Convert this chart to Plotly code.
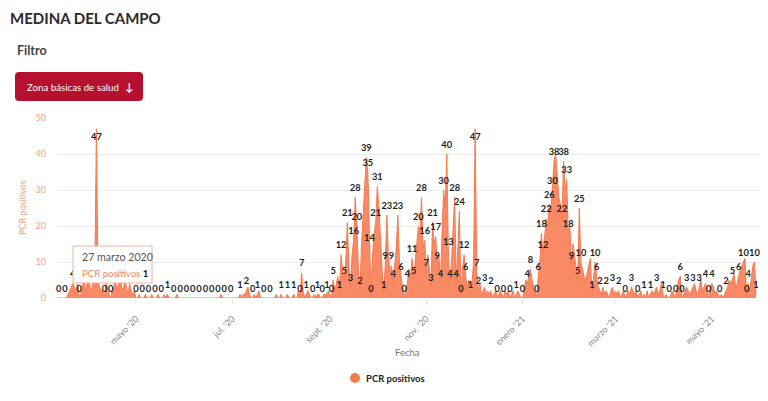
import pandas as pd
import plotly.graph_objects as go

# ---------------- data ----------------
start_date = "2020-03-12"
pcr_positivos = [
    0, 0, 0, 0, 0, 0, 0, 1, 2, 3,
    4, 3, 2, 4, 0, 1, 3, 5, 2, 4,
    6, 3, 2, 5, 8, 47, 5, 3, 2, 2,
    0, 4, 3, 1, 0, 2, 3, 5, 2, 4,
    7, 3, 2, 5, 3, 1, 4, 2, 1, 2,
    0, 0, 1, 0, 0, 0, 1, 0, 0, 0,
    1, 0, 0, 0, 1, 0, 0, 0, 1, 0,
    1, 0, 0, 0, 0, 0, 1, 0, 0, 0,
    0, 0, 0, 0, 0, 0, 0, 0, 0, 0,
    0, 0, 0, 0, 0, 0, 0, 0, 0, 0,
    0, 0, 0, 0, 1, 0, 0, 0, 0, 0,
    0, 0, 0, 0, 0, 0, 1, 0, 1, 1,
    2, 3, 1, 0, 0, 1, 0, 1, 2, 0,
    0, 0, 0, 0, 0, 0, 0, 0, 0, 1,
    0, 0, 1, 0, 0, 0, 1, 0, 0, 0,
    1, 0, 0, 2, 0, 7, 2, 0, 1, 2,
    1, 0, 0, 1, 0, 1, 1, 0, 0, 1,
    1, 1, 2, 1, 0, 5, 2, 4, 6, 1,
    12, 7, 5, 10, 21, 9, 3, 12, 16, 28,
    20, 8, 2, 15, 22, 30, 39, 35, 14, 0,
    12, 18, 21, 31, 25, 15, 8, 1, 9, 23,
    12, 7, 9, 4, 10, 14, 23, 10, 6, 3,
    0, 2, 4, 8, 6, 11, 5, 10, 15, 20,
    18, 28, 14, 16, 7, 12, 8, 3, 21, 15,
    17, 9, 12, 4, 18, 30, 25, 40, 13, 4,
    10, 20, 28, 4, 15, 24, 0, 8, 12, 6,
    3, 5, 1, 4, 10, 47, 7, 2, 4, 1,
    2, 3, 1, 2, 1, 2, 0, 1, 2, 0,
    1, 2, 1, 0, 2, 1, 2, 0, 1, 2,
    0, 1, 2, 1, 0, 0, 2, 5, 4, 6,
    8, 5, 3, 2, 0, 6, 10, 18, 12, 17,
    22, 20, 26, 24, 30, 38, 40, 35, 28, 26,
    22, 38, 30, 33, 18, 20, 9, 15, 12, 8,
    5, 25, 10, 8, 6, 5, 7, 9, 11, 1,
    5, 10, 6, 3, 2, 1, 3, 1, 2, 1,
    0, 2, 3, 1, 2, 1, 2, 0, 1, 2,
    0, 1, 2, 1, 3, 2, 1, 2, 0, 1,
    2, 0, 1, 0, 2, 0, 1, 2, 1, 2,
    3, 1, 2, 4, 1, 0, 1, 0, 0, 1,
    2, 1, 0, 3, 5, 6, 0, 1, 2, 3,
    2, 1, 2, 3, 4, 2, 1, 3, 5, 2,
    3, 4, 2, 0, 3, 4, 3, 1, 2, 1,
    0, 1, 0, 1, 2, 3, 5, 4, 5, 7,
    3, 4, 6, 8, 9, 10, 11, 0, 4, 2,
    6, 9, 10, 1,
]
# days (index into the series) whose value label is visible in the chart
label_idx = [
    1, 5, 10, 14, 25, 30, 34,
    50, 54, 58, 62, 66, 70, 74, 78, 82, 86, 90, 94, 98, 102, 106, 110,
    116, 120, 124, 127, 131, 135, 142, 146, 150, 154, 155, 158, 162, 165, 168, 171, 174,
    175, 179, 180, 182, 184, 186, 188, 189, 190, 192, 196, 197, 198, 199, 202, 203,
    207, 208, 209, 212, 213, 216, 218, 220, 222, 225, 226, 229, 231, 233, 234, 237, 238,
    240, 241, 243, 245, 247, 248, 249, 252, 253, 255, 256, 258, 259, 262, 265, 266, 267,
    271, 275, 279, 283, 287, 291, 295, 298, 300, 304, 305, 307, 308, 310, 312, 314, 315,
    320, 321, 323, 324, 326, 330, 331, 332, 339, 341, 342, 344, 348, 352, 356, 360, 364,
    368, 372, 376, 380, 384, 388, 392, 395, 396, 399, 403, 407, 411, 413, 415, 420, 424,
    428, 432, 435, 437, 438, 442, 443,
]
tick_dates = ["2020-05-01", "2020-07-01", "2020-09-01", "2020-11-01",
              "2021-01-01", "2021-03-01", "2021-05-01"]
tick_text = ["mayo '20", "jul. '20", "sept. '20", "nov. '20",
             "enero '21", "marzo '21", "mayo '21"]
y_ticks = [0, 10, 20, 30, 40, 50]
series_name = "PCR positivos"
tooltip_date = "27 marzo 2020"
tooltip_value = 1

# ---------------- figure ----------------
W, H = 768, 401
L, R, T, B = 57, 8, 118, 103
PW, PH = W - L - R, H - T - B

def px(x):
    return (x - L) / PW

def py(y):
    return (H - B - y) / PH

dates = pd.date_range(start_date, periods=len(pcr_positivos), freq="D")
s = pd.Series(pcr_positivos, index=dates)
lab = s.iloc[label_idx]

ORANGE_FILL = "rgba(248,128,88,0.92)"
ORANGE_LINE = "#f47a50"
SALMON = "#f2a489"
FONT = "Lato"

fig = go.Figure()
fig.add_trace(go.Scatter(
    x=s.index, y=s.values, mode="lines", fill="tozeroy",
    line=dict(color=ORANGE_LINE, width=1), fillcolor=ORANGE_FILL,
    name=series_name, showlegend=False, hoverinfo="skip",
))
fig.add_trace(go.Scatter(
    x=lab.index, y=lab.values, mode="markers+text",
    text=[str(v) for v in lab.values],
    textposition=["bottom center" if v > 45 else "top center" for v in lab.values],
    marker=dict(size=5, opacity=0),
    textfont=dict(family=FONT, size=9.3, color="#1e1e1e", weight="bold"),
    showlegend=False, hoverinfo="skip", cliponaxis=False,
))

x_start = pd.Timestamp(start_date)
x_end = x_start + pd.Timedelta(days=PW / 1.578)

fig.update_layout(
    width=W, height=H,
    margin=dict(l=L, r=R, t=T, b=B),
    paper_bgcolor="white", plot_bgcolor="white",
    font=dict(family=FONT),
    showlegend=False,
    xaxis=dict(
        range=[x_start, x_end],
        tickvals=pd.to_datetime(tick_dates), ticktext=tick_text,
        tickangle=-45, tickfont=dict(family=FONT, size=9, color="#8a8a8a"),
        showgrid=False, zeroline=False, showline=False,
        ticks="outside", ticklen=5, tickcolor="#e6e6e6", ticklabelstandoff=6,
    ),
    yaxis=dict(
        range=[0, 50], tickvals=y_ticks,
        tickfont=dict(family=FONT, size=9, color=SALMON),
        showgrid=True, gridcolor="#ececec", gridwidth=1,
        zeroline=False, showline=False, ticklabelstandoff=10,
    ),
)

ann = []
ann.append(dict(text="MEDINA DEL CAMPO", x=px(8), y=py(18), xanchor="left", yanchor="middle",
                font=dict(family=FONT, size=15, color="#2b2b2b", weight="bold"), showarrow=False))
ann.append(dict(text="Filtro", x=px(15), y=py(50), xanchor="left", yanchor="middle",
                font=dict(family=FONT, size=12.5, color="#444444", weight="bold"), showarrow=False))
ann.append(dict(text="Zona básicas de salud", x=px(25), y=py(87), xanchor="left", yanchor="middle",
                font=dict(family=FONT, size=9.7, color="white"), showarrow=False))
ann.append(dict(text="↓", x=px(129), y=py(87), xanchor="center", yanchor="middle",
                font=dict(family=FONT, size=11, color="white", weight="bold"), showarrow=False))
ann.append(dict(text="PCR positivos", x=px(22), y=py(208), textangle=-90, xanchor="center",
                yanchor="middle", font=dict(family=FONT, size=9, color=SALMON), showarrow=False))
ann.append(dict(text="Fecha", x=px(407), y=py(352), xanchor="center", yanchor="middle",
                font=dict(family=FONT, size=9.5, color="#777777"), showarrow=False))
ann.append(dict(text="<b>" + series_name + "</b>", x=px(364), y=py(378), xanchor="left", yanchor="middle",
                font=dict(family=FONT, size=9.5, color="#222222"), showarrow=False))
# tooltip
ann.append(dict(text=tooltip_date, x=px(80), y=py(257), xanchor="left", yanchor="middle",
                font=dict(family=FONT, size=10.6, color="#555555"), showarrow=False))
ann.append(dict(text=series_name + " <b><span style='color:#222'>" + str(tooltip_value) + "</span></b>",
                x=px(80), y=py(273), xanchor="left", yanchor="middle",
                font=dict(family=FONT, size=9.6, color="#f08a68"), showarrow=False))
for a in ann:
    a["xref"] = "paper"
    a["yref"] = "paper"
fig.update_layout(annotations=ann)

def rounded(x0, y0, x1, y1, r):
    X0, X1 = px(x0), px(x1)
    Y0, Y1 = py(y1), py(y0)  # paper y bottom/top
    rx, ry = r / PW, r / PH
    return (f"M {X0+rx},{Y0} L {X1-rx},{Y0} Q {X1},{Y0} {X1},{Y0+ry} "
            f"L {X1},{Y1-ry} Q {X1},{Y1} {X1-rx},{Y1} L {X0+rx},{Y1} "
            f"Q {X0},{Y1} {X0},{Y1-ry} L {X0},{Y0+ry} Q {X0},{Y0} {X0+rx},{Y0} Z")

shapes = [
    dict(type="path", path=rounded(15, 72, 143, 101, 4), xref="paper", yref="paper",
         fillcolor="#b5102e", line=dict(width=0), layer="above"),
    dict(type="circle", xref="paper", yref="paper",
         x0=px(350), x1=px(360), y0=py(383), y1=py(373),
         fillcolor="#f27b50", line=dict(width=0), layer="above"),
    dict(type="rect", xref="paper", yref="paper",
         x0=px(73), x1=px(152), y0=py(283), y1=py(246),
         fillcolor="white", line=dict(color="#f0b29c", width=1), layer="above"),
]
fig.update_layout(shapes=shapes)

fig.write_html("out.html")
